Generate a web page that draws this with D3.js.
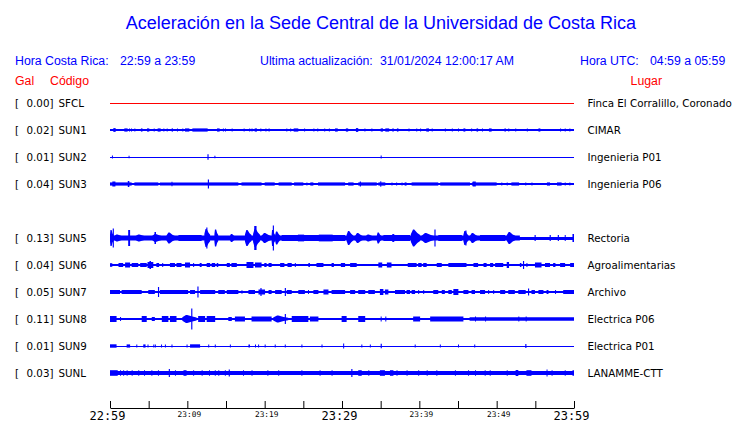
<!DOCTYPE html>
<html><head><meta charset="utf-8">
<script src="https://cdn.jsdelivr.net/npm/d3@7"></script>
<style>
html,body{margin:0;padding:0;background:#fff;}
svg{display:block;}
</style></head>
<body>
<svg id="chart" width="740" height="423"></svg>
<script>
// ---------------- DATA ----------------
const titleText = "Aceleración en la Sede Central de la Universidad de Costa Rica";
const headerLocal = ["Hora Costa Rica:", "22:59 a 23:59"];
const headerUpdate = ["Ultima actualización:", "31/01/2024 12:00:17 AM"];
const headerUTC = ["Hora UTC:", "04:59 a 05:59"];
const colHeads = ["Gal", "Código", "Lugar"];

const codes  = ["SFCL","SUN1","SUN2","SUN3","SUN5","SUN6","SUN7","SUN8","SUN9","SUNL"];
const places = ["Finca El Corralillo, Coronado","CIMAR","Ingenieria P01","Ingenieria P06","Rectoria",
                "Agroalimentarias","Archivo","Electrica P06","Electrica P01","LANAMME-CTT"];
const peakGal = [0.00,0.02,0.01,0.04,0.13,0.04,0.05,0.11,0.01,0.03];
const slots   = [0,1,2,3,5,6,7,8,9,10];           // SUN4 slot (4) is empty
const baseAmp  = [0.5,0.6,0.5,0.6,1.5,0.8,0.8,1.2,0.5,1.8];   // background half-amplitude
const burstAmp = [0.5,1.6,1.4,1.6,3.0,2.0,2.0,2.5,1.6,2.8];   // default burst half-amplitude

// bursts: [startMin, endMin, halfAmplitude?]  (minutes after 22:59)
const bSFCL = [];
const bSUN1 = [[0.43,0.73,1.9],[1.85,2.28],[2.46,2.55],[2.72,2.8],[3.15,3.25],[4.0,4.2],[4.78,5.08],[5.65,5.75],
  [6.16,6.55],[6.9,7.0],[7.33,7.43],[7.97,8.15],[8.66,8.76],[9.35,9.45],[9.7,10.26],[10.65,12.63],[13.84,14.18],
  [14.6,14.7],[14.87,14.95],[15.73,15.83],[17.28,17.38],[18.0,18.1],[18.3,18.4],[18.7,19.0],[19.44,19.54],[20.1,20.2],
  [20.5,20.65],[22.8,22.9],[23.3,23.4],[23.75,24.35],[25.1,25.2],[26.3,26.4],[26.8,26.9],[27.7,27.8],[28.3,28.4],
  [29.1,29.45],[30.5,30.8],[31.8,32.1,1.9],[32.9,33.0],[33.8,33.9],[35.0,35.3],[35.6,36.1],[36.5,36.7],[37.1,37.3],
  [38.6,38.7],[39.6,39.7],[40.1,40.2],[40.9,41.25],[41.6,41.7],[43.3,43.4],[44.2,44.3],[45.0,45.1],[45.7,45.95],
  [46.7,46.8],[47.4,47.6],[48.1,48.2],[49.0,49.35],[51.0,51.2],[51.5,51.6],[52.4,52.5],[53.9,54.0],[55.4,55.65],
  [58.2,58.3],[58.8,58.9],[59.4,59.5]];
const bSUN2 = [[0.25,0.35,1.5],[2.4,2.5,1.3],[12.6,12.75,2.8],[13.5,13.6,1.3],[35.0,35.1,1.5]];
const bSUN3 = [[0,2.8],[0.3,0.7,2.5],[2.3,2.5,3],[3.15,6.25],[6.45,12.7],[7.95,8.05,2.3],[12.65,12.8,4.5],[12.8,16.6],
  [17.0,19.6],[20.0,21.3],[21.8,23.5],[23.8,25.0],[25.4,25.5],[25.9,26.3],[26.9,30.4],[30.8,31.5],[32.1,34.5],
  [32.3,32.45,2.5],[34.7,35.6],[34.95,35.05,2.8],[36.4,36.5],[37.0,37.1],[37.7,37.8],[38.1,38.35],[39.0,42.45],
  [42.7,46.55],[46.8,50.0],[46.9,47.3,2.5],[50.6,50.7],[51.3,51.4],[51.9,52.9],[53.7,53.8],[54.5,54.6],[56.5,56.9],
  [57.8,58.4],[58.8,58.9],[59.4,59.5]];
const bSUN5 = [[0,53.0,2.4],[0,0.45,8],[0.35,0.5,9.5],[0.45,1.95,3.5],[2.35,2.6,8],[3.2,4.95,3.5],[5.4,6.9,4],[5.75,5.95,6],
  [7.3,8.4,5.5],[8.85,11.85,3],[12.2,12.95,9],[12.45,12.6,10.5],[13.5,14.0,8.5],[15.5,16.2,4],[17.45,18.3,8],
  [18.5,19.4,9],[18.65,18.95,12],[19.6,20.9,5],[20.9,21.35,8],[21.05,21.2,12.5],[21.35,22.0,6.5],[22.2,30.4,3],
  [24.3,25.1,3.4],[27.0,28.8,3.4],[30.6,31.45,7],[31.7,32.75,5],[33.0,34.3,3.5],[34.5,35.1,5.5],[35.35,38.8,3],
  [36.4,37.1,4],[38.9,40.1,8.5],[40.3,42.0,5],[41.95,42.1,8.5],[42.45,45.5,3],[45.7,46.35,7],[45.95,46.1,7.5],
  [46.55,47.6,5],[47.85,51.1,3],[51.3,52.4,6],[54.9,55.05,3],[56.85,57.0,3],[57.9,58.05,3],[58.8,58.9,3],[59.8,60,4]];
const bSUN6 = [[0,0.3,1.8],[1.1,1.7],[1.95,2.6,2.5],[2.8,3.65],[3.9,4.75],[4.85,5.6,3],[5.1,5.3,4],[6.0,6.35],[6.75,6.85],
  [7.75,8.4],[8.6,9.25],[9.7,10.35,2.5],[10.75,10.85],[11.6,11.85],[12.5,12.95],[13.15,13.6],[13.8,14.0],[15.1,15.5],
  [15.7,16.4],[17.65,18.55,3],[18.75,19.6,2.5],[19.95,20.25],[20.5,20.9],[22.0,22.55],[22.95,23.5],[23.9,24.0],
  [25.65,25.85],[26.7,27.6],[28.65,28.95],[29.85,30.4],[31.05,31.9],[34.7,35.2,2.5],[35.8,36.4,2.5],[38.5,39.65],
  [39.85,40.3],[40.5,40.95],[42.25,42.9],[43.75,46.1],[47.0,47.6],[48.3,48.7],[49.15,49.55],[49.8,50.85],
  [51.3,51.6,3],[53.0,53.2],[53.4,53.55,4],[53.85,53.95],[54.95,55.8,2.5],[56.25,56.9],[57.3,57.6],[58.2,58.85],[59.5,60]];
const bSUN7 = [[0,1.3],[1.5,4.1],[4.95,5.8],[6.2,6.35,5],[6.45,10.1],[10.35,11.0],[11.3,11.45,5.5],[11.65,13.6],[14.0,14.85],
  [15.1,16.6],[17.0,17.1,1.8],[17.9,18.75],[19.2,20.05,2.5],[19.45,19.6,4],[20.5,20.9],[21.35,22.2],[22.6,22.75,4],
  [22.85,23.5],[24.35,25.2],[25.6,25.7],[26.3,26.95],[27.6,28.25,2.5],[28.65,30.4],[31.05,31.7],[32.1,33.0],
  [33.4,34.25],[34.9,35.35,3],[35.55,36.0,2.5],[36.85,38.15],[38.35,38.8],[39.0,39.45],[39.85,39.95],[40.5,40.6],
  [41.8,42.45],[42.9,43.3],[43.75,44.2],[44.4,45.05,3],[45.7,46.35],[46.75,47.2],[47.85,48.5],[48.9,49.0],
  [49.55,49.65],[50.45,51.1],[51.5,52.35],[52.8,53.75],[54.05,54.2,3.5],[54.5,54.95],[55.4,56.05],[56.45,56.7],
  [57.55,57.65],[58.6,60]];
const bSUN8 = [[46.5,60,1.8],[0,0.85,3],[1.3,1.4,2],[4.1,4.75,3],[5.4,5.8,2],[6.7,7.55,3],[7.75,8.6,3],[9.35,11.2,4],
  [10.5,10.65,10.5],[11.4,12.3,3],[12.5,13.6,3],[15.3,15.75,2],[16.15,17.45],[18.3,20.9],[21.1,23.05,3.5],
  [22.6,22.75,5],[23.5,25.65,3],[25.85,26.95],[29.95,30.6,3],[32.1,33.0,3],[35.0,35.1],[35.6,35.7],[39.2,40.1],
  [41.4,45.7],[47.2,47.3],[48.5,48.6],[52.8,52.9],[53.75,53.85]];
const bSUN9 = [[0,0.85,1.7],[2.15,2.6],[3.4,3.5],[4.3,4.6],[4.85,4.95],[5.6,5.7],[5.8,5.9],[6.6,6.7],[7.1,7.2],[7.95,8.05],
  [9.9,10.0],[10.35,11.65,1.7],[12.7,12.8],[13.55,13.65],[15.5,15.6],[17.9,18.1],[18.75,18.85],[19.15,19.25],
  [20.0,20.1],[21.3,21.4],[22.6,22.7],[24.75,24.85],[27.35,27.45],[30.15,30.25,2.5],[32.5,32.6],[33.6,33.7],
  [35.0,35.15,2.2],[39.4,39.5],[42.65,42.75],[45.0,45.1],[47.1,47.2],[53.7,53.85,2]];
const bSUNL = [[0,1.0],[1.3,1.4],[1.7,1.8],[2.15,2.25],[2.8,2.9],[3.65,3.75],[4.4,4.5],[5.35,5.45],[6.2,6.3],[7.6,7.75,4],
  [8.4,8.5],[9.5,9.9],[10.75,10.85],[11.85,11.95],[12.8,12.9],[13.55,13.65],[14.0,14.1],[14.85,14.95],[15.35,15.5,3.5],
  [17.2,17.3],[18.3,18.4],[20.35,20.45],[21.75,21.85],[24.75,24.85],[27.1,27.2],[28.65,28.75],[31.2,31.35,4],
  [32.1,32.55],[33.4,33.5],[34.9,35.55],[36.2,36.65],[37.05,37.15],[38.35,38.45],[39.85,39.95],[40.95,41.05],
  [42.2,42.3],[44.6,44.7],[46.3,46.4],[47.2,47.3],[48.45,48.55],[49.1,49.2],[51.3,51.4],[52.45,52.8,3],
  [53.85,54.5],[56.45,56.55,3.5],[57.1,57.2],[58.8,58.9],[59.8,60]];
const bursts = [bSFCL,bSUN1,bSUN2,bSUN3,bSUN5,bSUN6,bSUN7,bSUN8,bSUN9,bSUNL];
const traceColors = ["#ff0000","#0000ff","#0000ff","#0000ff","#0000ff","#0000ff","#0000ff","#0000ff","#0000ff","#0000ff"];

const tickMinutes = [0,5,10,15,20,25,30,35,40,45,50,55,60];
const tickLabels  = {0:"22:59",10:"23:09",20:"23:19",30:"23:29",40:"23:39",50:"23:49",60:"23:59"};
const bigTicks = [0,30,60];

// ---------------- DRAW ----------------
const svg = d3.select("#chart");
const x = d3.scaleLinear().domain([0,60]).range([110,574]);
const rowY = d3.scaleLinear().domain([0,10]).range([103,373]);
const a = d3.scaleLinear().domain([0,10]).range([0,10]);

const blue = "#0000ff", red = "#ff0000";
const sans = "'Liberation Sans', Arial, sans-serif";
const dv = "'DejaVu Sans', sans-serif";

svg.append("text").attr("x",381).attr("y",29).attr("text-anchor","middle")
  .attr("font-family",sans).attr("font-size",18).attr("fill",blue).text(titleText);

function pair(xa, xb, y, arr){
  svg.append("text").attr("x",xa).attr("y",y).attr("font-family",sans).attr("font-size",12.3).attr("fill",blue).text(arr[0]);
  svg.append("text").attr("x",xb).attr("y",y).attr("font-family",sans).attr("font-size",12.3).attr("fill",blue).text(arr[1]);
}
pair(15,120,65,headerLocal);
pair(260,380,65,headerUpdate);
pair(580,650,65,headerUTC);

svg.append("text").attr("x",15).attr("y",85).attr("font-family",sans).attr("font-size",12.3).attr("fill",red).text(colHeads[0]);
svg.append("text").attr("x",50).attr("y",85).attr("font-family",sans).attr("font-size",12.3).attr("fill",red).text(colHeads[1]);
svg.append("text").attr("x",662).attr("y",85).attr("text-anchor","end").attr("font-family",sans).attr("font-size",12.3).attr("fill",red).text(colHeads[2]);

const rows = svg.selectAll("g.row").data(codes.map((c,i)=>({c,i}))).join("g").attr("class","row");

// envelope of a burst: rectangular for small ones, spindle (fast rise, slow decay) for large ones
function burstPath(b, y, def){
  const amp = a(b[2]!==undefined ? b[2] : def);
  const x0 = x(b[0]), x1 = Math.max(x(b[1]), x0+1);
  const w = x1 - x0;
  if (amp < 3.5 || w < 3) {
    return `M${x0},${y-amp}H${x1}V${y+amp}H${x0}Z`;
  }
  const s = amp*0.45, xp = x0 + w*0.3, xm = x0 + w*0.7;
  return `M${x0},${y-s}L${xp-0.6},${y-amp}L${xp+0.6},${y-amp}L${xm},${y-amp*0.6}L${x1},${y-s*0.8}` +
         `V${y+s*0.8}L${xm},${y+amp*0.6}L${xp+0.6},${y+amp}L${xp-0.6},${y+amp}L${x0},${y+s}Z`;
}

rows.each(function(d){
  const g = d3.select(this);
  const y = rowY(slots[d.i]);
  const col = traceColors[d.i];
  // background trace
  g.append("rect").attr("x",x(0)).attr("width",x(60)-x(0))
    .attr("y",y-Math.max(0.5,a(baseAmp[d.i]))).attr("height",Math.max(1,2*a(baseAmp[d.i])))
    .attr("fill",col).attr("shape-rendering","crispEdges");
  g.selectAll("path.b").data(bursts[d.i]).join("path").attr("class","b")
    .attr("d",b=>burstPath(b,y,burstAmp[d.i]))
    .attr("fill",col);
  // labels
  const ty = y+4;
  g.append("text").attr("x",15).attr("y",ty).attr("font-family",dv).attr("font-size",10.3).attr("fill","#000").text("[");
  g.append("text").attr("x",53.5).attr("y",ty).attr("text-anchor","end").attr("font-family",dv).attr("font-size",10.3).attr("fill","#000")
    .text(peakGal[d.i].toFixed(2)+"]");
  g.append("text").attr("x",58.5).attr("y",ty).attr("font-family",dv).attr("font-size",10.3).attr("fill","#000").text(d.c);
  g.append("text").attr("x",587.5).attr("y",ty).attr("font-family",dv).attr("font-size",10.3).attr("fill","#000").text(places[d.i]);
});

// time axis
const axis = d3.axisBottom(x).tickValues(tickMinutes).tickSizeInner(-7).tickSizeOuter(0)
  .tickFormat(m => tickLabels[m] || "");
const ag = svg.append("g").attr("transform","translate(0,408)").call(axis);
ag.select(".domain").attr("stroke","#000");
ag.selectAll(".tick line").attr("stroke","#000");
ag.selectAll(".tick text")
  .attr("font-family","'DejaVu Sans Mono', monospace")
  .attr("fill","#000")
  .attr("dy",null)
  .attr("dx", m => bigTicks.includes(m) ? -3 : 1.5)
  .attr("y", m => bigTicks.includes(m) ? 12 : 9.3)
  .attr("font-size", m => bigTicks.includes(m) ? 12 : 7.8);
</script>
</body></html>
